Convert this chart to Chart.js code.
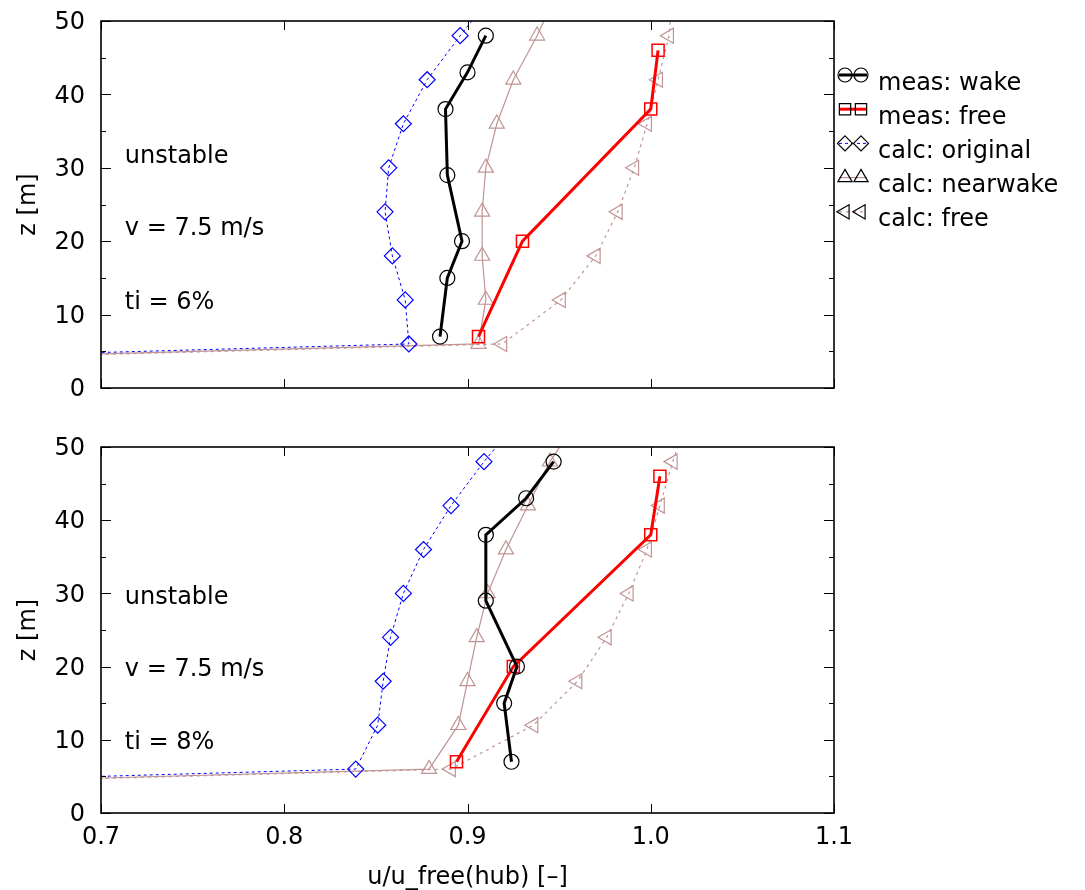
<!DOCTYPE html>
<html>
<head>
<meta charset="utf-8">
<script src="https://cdn.jsdelivr.net/npm/chart.js@4.4.0/dist/chart.umd.min.js"></script>
<style>
  html, body { margin: 0; padding: 0; background: #fff; }
  #wrap { position: relative; width: 1085px; height: 890px; }
  .panel { position: absolute; left: 0; width: 1085px; }
</style>
</head>
<body>
<div id="wrap">
  <div class="panel" style="top:0;height:420px"><canvas id="chartTop"></canvas></div>
  <div class="panel" style="top:420px;height:470px"><canvas id="chartBottom"></canvas></div>
</div>
<script>
// axis ticks
const xTicks = [0.7, 0.8, 0.9, 1.0, 1.1];
const xTickLabels = ['0.7', '0.8', '0.9', '1.0', '1.1'];
const yTicks = [0, 10, 20, 30, 40, 50];
const yMinorTicks = [5, 15, 25, 35, 45];

// heights of the profiles [m]
const zMeasWake = [7, 15, 20, 29, 38, 43, 48];
const zMeasFree = [7, 20, 38, 46];
const zCalc = [0, 6, 12, 18, 24, 30, 36, 42, 48, 54];

// panel 1: ti = 6%
const wake6 = [0.885, 0.889, 0.897, 0.889, 0.888, 0.900, 0.910];
const free6 = [0.906, 0.930, 1.000, 1.004];
const orig6 = [0, 0.868, 0.866, 0.859, 0.855, 0.857, 0.865, 0.878, 0.896, 0.915];
const near6 = [0, 0.906, 0.910, 0.908, 0.908, 0.910, 0.916, 0.925, 0.938, 0.949];
const calcFree6 = [0, 0.919, 0.951, 0.970, 0.982, 0.991, 0.998, 1.004, 1.010, 1.012];

// panel 2: ti = 8%
const wake8 = [0.924, 0.920, 0.927, 0.910, 0.910, 0.932, 0.947];
const free8 = [0.894, 0.925, 1.000, 1.005];
const orig8 = [0, 0.839, 0.851, 0.854, 0.858, 0.865, 0.876, 0.891, 0.909, 0.929];
const near8 = [0, 0.879, 0.895, 0.900, 0.905, 0.911, 0.921, 0.933, 0.945, 0.961];
const calcFree8 = [0, 0.891, 0.936, 0.960, 0.976, 0.988, 0.998, 1.005, 1.012, 1.020];

const seriesLabels = ['meas: wake', 'meas: free', 'calc: original', 'calc: nearwake', 'calc: free'];
const notes6 = ['unstable', 'v = 7.5 m/s', 'ti = 6%'];
const notes8 = ['unstable', 'v = 7.5 m/s', 'ti = 8%'];

const FONT = { family: '"DejaVu Sans", sans-serif', size: 24 };
const BROWN = 'rgb(192,148,148)';

function pts(u, z) {
  return u.map((v, i) => ({ x: v, y: z[i] }));
}

function makeDatasets(wake, free, orig, near, cfree) {
  return [
    { label: seriesLabels[0], data: pts(wake, zMeasWake), borderColor: '#000', borderWidth: 3,
      pointStyle: 'circle', pointRadius: 7.5, pointBorderWidth: 1.2, pointBorderColor: '#000',
      pointBackgroundColor: 'rgba(0,0,0,0)' },
    { label: seriesLabels[1], data: pts(free, zMeasFree), borderColor: '#ff0000', borderWidth: 3,
      pointStyle: 'rect', pointRadius: 8.5, pointBorderWidth: 1.5, pointBorderColor: '#ff0000',
      pointBackgroundColor: 'rgba(0,0,0,0)' },
    { label: seriesLabels[2], data: pts(orig, zCalc), borderColor: '#0000ff', borderWidth: 1,
      borderDash: [3, 3], pointStyle: 'rectRot', pointRadius: 8, pointBorderWidth: 1.2,
      pointBorderColor: '#0000ff', pointBackgroundColor: 'rgba(0,0,0,0)' },
    { label: seriesLabels[3], data: pts(near, zCalc), borderColor: BROWN, borderWidth: 1.2,
      pointStyle: 'triangle', pointRadius: 8.7, pointBorderWidth: 1.2, pointBorderColor: BROWN,
      pointBackgroundColor: 'rgba(0,0,0,0)' },
    { label: seriesLabels[4], data: pts(cfree, zCalc), borderColor: BROWN, borderWidth: 1.2,
      borderDash: [3, 4], pointStyle: 'triangle', pointRotation: -90, pointRadius: 8.7,
      pointBorderWidth: 1.2, pointBorderColor: BROWN, pointBackgroundColor: 'rgba(0,0,0,0)' }
  ];
}

// border with inward ticks on all four sides (gnuplot look)
const framePlugin = {
  id: 'frame',
  afterDatasetsDraw(chart) {
    const { ctx, chartArea: a, scales: { x, y } } = chart;
    ctx.save();
    ctx.strokeStyle = '#000';
    ctx.lineWidth = 1;
    ctx.beginPath();
    xTicks.forEach(v => {
      const px = Math.round(x.getPixelForValue(v)) + 0.5;
      ctx.moveTo(px, a.bottom); ctx.lineTo(px, a.bottom - 9);
      ctx.moveTo(px, a.top); ctx.lineTo(px, a.top + 9);
    });
    yTicks.forEach(v => {
      const py = Math.round(y.getPixelForValue(v)) + 0.5;
      ctx.moveTo(a.left, py); ctx.lineTo(a.left + 10, py);
      ctx.moveTo(a.right, py); ctx.lineTo(a.right - 10, py);
    });
    yMinorTicks.forEach(v => {
      const py = Math.round(y.getPixelForValue(v)) + 0.5;
      ctx.moveTo(a.left, py); ctx.lineTo(a.left + 5, py);
      ctx.moveTo(a.right, py); ctx.lineTo(a.right - 5, py);
    });
    ctx.stroke();
    ctx.lineWidth = 1.6;
    ctx.strokeRect(a.left, a.top, a.right - a.left, a.bottom - a.top);
    ctx.restore();
  }
};

// text annotations inside the plot
const notesPlugin = {
  id: 'notes',
  afterDraw(chart, args, opts) {
    const { ctx, scales: { x, y } } = chart;
    ctx.save();
    ctx.font = `${FONT.size}px ${FONT.family}`;
    ctx.fillStyle = '#000';
    ctx.textAlign = 'left';
    ctx.textBaseline = 'alphabetic';
    opts.lines.forEach((t, i) => {
      ctx.fillText(t, x.getPixelForValue(opts.x), y.getPixelForValue(opts.z[i]));
    });
    ctx.restore();
  }
};

// gnuplot style key: two black markers with the series line through them
const keyPlugin = {
  id: 'gpKey',
  afterDraw(chart, args, opts) {
    if (!opts.show) return;
    const { ctx, chartArea: a } = chart;
    const H = Chart.helpers;
    ctx.save();
    ctx.font = `${FONT.size}px ${FONT.family}`;
    ctx.textBaseline = 'alphabetic';
    ctx.textAlign = 'left';
    chart.data.datasets.forEach((ds, i) => {
      const base = 89.5 + i * 34.2;
      const my = base - 14.5;
      const x0 = a.right + 5;
      ctx.save();
      ctx.strokeStyle = ds.borderColor;
      ctx.lineWidth = ds.borderWidth;
      ctx.setLineDash(ds.borderDash || []);
      ctx.beginPath();
      ctx.moveTo(x0, my); ctx.lineTo(x0 + 28, my);
      ctx.stroke();
      ctx.restore();
      ctx.strokeStyle = '#000';
      ctx.fillStyle = 'rgba(0,0,0,0)';
      ctx.lineWidth = 1.2;
      [x0 + 6, x0 + 22].forEach(px => {
        H.drawPoint(ctx, { pointStyle: ds.pointStyle, rotation: ds.pointRotation || 0,
          radius: ds.pointRadius - 0.5, borderWidth: 1.2 }, px, my);
      });
      ctx.fillStyle = '#000';
      ctx.fillText(ds.label, a.right + 44, base);
    });
    ctx.restore();
  }
};

function makeChart(id, datasets, notes, noteZ, isBottom) {
  return new Chart(document.getElementById(id), {
    type: 'scatter',
    data: { datasets },
    plugins: [framePlugin, notesPlugin, keyPlugin],
    options: {
      responsive: true,
      maintainAspectRatio: false,
      animation: false,
      showLine: true,
      elements: { line: { tension: 0 } },
      layout: { padding: isBottom ? { left: 0, right: 251, top: 27, bottom: 0 }
                                  : { left: 0, right: 251, top: 21, bottom: 32 } },
      plugins: {
        legend: { display: false },
        tooltip: { enabled: false },
        notes: { lines: notes, x: 0.713, z: noteZ },
        gpKey: { show: !isBottom }
      },
      scales: {
        x: {
          type: 'linear', min: 0.7, max: 1.1, display: isBottom,
          afterBuildTicks: s => { s.ticks = xTicks.map(v => ({ value: v })); },
          afterFit: s => { s.height = isBottom ? 77 : 0; },
          grid: { display: false, drawTicks: true, tickLength: 10 },
          border: { display: false },
          ticks: { font: FONT, color: '#000', padding: 0, maxRotation: 0, autoSkip: false,
                   callback: (v, i) => xTickLabels[i] },
          title: { display: true, text: 'u/u_free(hub) [–]', font: FONT, color: '#000',
                   padding: { top: 0, bottom: -2 } }
        },
        y: {
          type: 'linear', min: 0, max: 50,
          afterBuildTicks: s => { s.ticks = yTicks.map(v => ({ value: v })); },
          afterFit: s => { s.width = 101; },
          grid: { display: false, drawTicks: true, tickLength: 16 },
          border: { display: false },
          ticks: { font: FONT, color: '#000', padding: 0, labelOffset: 2 },
          title: { display: true, text: 'z [m]', font: FONT, color: '#000',
                   padding: { top: 14, bottom: 0 } }
        }
      }
    }
  });
}

makeChart('chartTop', makeDatasets(wake6, free6, orig6, near6, calcFree6), notes6, [30.6, 20.9, 10.8], false);
makeChart('chartBottom', makeDatasets(wake8, free8, orig8, near8, calcFree8), notes8, [28.6, 18.7, 8.8], true);
</script>
</body>
</html>
